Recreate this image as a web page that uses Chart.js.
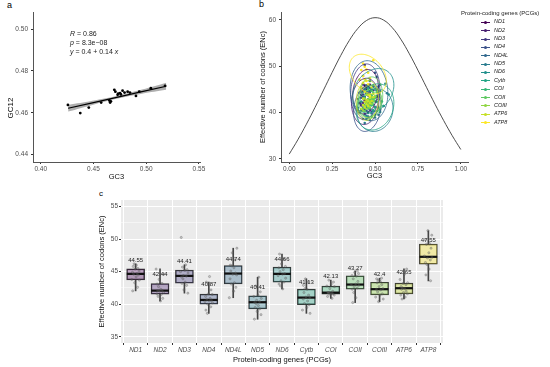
<!DOCTYPE html>
<html>
<head>
<meta charset="utf-8">
<title>GC12 vs GC3, ENc plot and ENc boxplots</title>
<script src="https://cdn.jsdelivr.net/npm/chart.js@4.4.1/dist/chart.umd.min.js"></script>
<style>
  body { margin: 0; width: 550px; height: 367px; position: relative; overflow: hidden; background: #fff;
         font-family: 'Liberation Sans', Arial, sans-serif; color: #000; }
  canvas { position: absolute; }
  .txt { position: absolute; white-space: nowrap; line-height: 1; }
  .panel { font-size: 9px; }
  .ytitle { font-size: 8px; transform: translate(-50%, -50%) rotate(-90deg); }
  .stat { font-size: 7px; color: #222; }
  .sw { position: absolute; left: 481px; width: 9px; height: 1px; }
  .dot { position: absolute; left: 484px; width: 3px; height: 3px; border-radius: 50%; }
  .item { left: 494px; font-style: italic; font-size: 5.5px; color: #222; }
</style>
</head>
<body>
<div class="txt panel" style="left:7px;top:1px">a</div>
<div class="txt panel" style="left:259px;top:0px">b</div>
<div class="txt panel" style="left:99px;top:190px;font-size:8px">c</div>

<canvas id="chartA" width="215" height="185" style="left:0;top:0"></canvas>
<canvas id="chartB" width="223" height="185" style="left:255px;top:0"></canvas>
<canvas id="chartC" width="355" height="179" style="left:93px;top:188px"></canvas>

<div class="txt ytitle" style="left:10.5px;top:108px">GC12</div>
<div class="txt stat" style="left:70px;top:30px"><i>R</i> = 0.86</div>
<div class="txt stat" style="left:70px;top:39px"><i>p</i> = 8.3e&minus;08</div>
<div class="txt stat" style="left:70px;top:48px"><i>y</i> = 0.4 + 0.14 <i>x</i></div>

<div class="txt" style="left:461px;top:9.5px;font-size:6px;color:#222">Protein-coding genes (PCGs)</div>
<div id="legend"></div>

<script>
// ---- panel a: GC12 against GC3 ----
const gc3A  = [0.4258, 0.4375, 0.4456, 0.4573, 0.4651, 0.4658, 0.4665, 0.4698, 0.4708, 0.4729, 0.4735,
               0.4752, 0.4760, 0.4776, 0.4795, 0.4824, 0.4846, 0.4903, 0.4934, 0.5044, 0.5179];
const gc12A = [0.4638, 0.4599, 0.4625, 0.4649, 0.4659, 0.4649, 0.4655, 0.4710, 0.4701, 0.4686, 0.4692,
               0.4694, 0.4688, 0.4706, 0.4697, 0.4701, 0.4697, 0.4681, 0.4701, 0.4718, 0.4729];
const fitX    = [0.426, 0.449, 0.472, 0.496, 0.519];
const fitY    = [0.4622, 0.4648, 0.4674, 0.4701, 0.4727];
const fitLow  = [0.4606, 0.4638, 0.4667, 0.4691, 0.4710];
const fitHigh = [0.4638, 0.4658, 0.4681, 0.4711, 0.4744];
const ticksAx = [0.40, 0.45, 0.50, 0.55];
const ticksAy = [0.44, 0.46, 0.48, 0.50];

// ---- genes, shared by panels b and c ----
const genes = ['ND1', 'ND2', 'ND3', 'ND4', 'ND4L', 'ND5', 'ND6', 'Cytb', 'COI', 'COII', 'COIII', 'ATP6', 'ATP8'];

// ENc of each gene (one value per species)
const encByGene = [
  [42.05, 42.6, 43.3, 43.7, 43.8, 44.2, 44.5, 44.6, 44.7, 44.9, 45.1, 45.4, 45.5, 45.8, 46.0, 46.2],   // ND1
  [40.5, 40.9, 41.2, 41.5, 41.6, 41.8, 42.0, 42.1, 42.1, 42.3, 42.7, 43.1, 43.2, 43.8, 44.6, 45.4],    // ND2
  [41.7, 42.2, 42.9, 43.2, 43.4, 43.9, 44.2, 44.3, 44.4, 44.8, 45.0, 45.2, 45.3, 45.7, 46.05, 50.25],  // ND3
  [38.6, 39.1, 39.6, 40.0, 40.2, 40.4, 40.5, 40.6, 40.7, 40.9, 41.2, 41.5, 41.6, 42.2, 43.4, 44.25],   // ND4
  [41.0, 42.0, 42.6, 43.1, 43.3, 43.9, 44.5, 44.6, 44.8, 45.1, 45.6, 45.9, 46.0, 46.8, 47.9, 48.6],    // ND4L
  [37.7, 38.4, 38.9, 39.3, 39.5, 39.8, 40.1, 40.3, 40.4, 40.6, 40.9, 41.2, 41.4, 41.9, 42.8, 44.15],   // ND5
  [42.35, 42.8, 43.1, 43.4, 43.6, 44.0, 44.4, 44.6, 44.7, 45.0, 45.3, 45.6, 45.8, 46.2, 46.9, 47.7],   // ND6
  [38.6, 39.1, 39.5, 39.9, 40.1, 40.5, 40.8, 41.0, 41.1, 41.4, 41.8, 42.3, 42.4, 42.9, 43.4, 43.9],    // Cytb
  [40.9, 41.2, 41.4, 41.5, 41.6, 41.7, 41.7, 41.8, 41.8, 42.0, 42.4, 42.7, 42.8, 43.1, 43.4, 43.7],    // COI
  [40.25, 41.0, 41.8, 42.3, 42.5, 42.7, 42.9, 43.0, 43.1, 43.5, 43.9, 44.3, 44.4, 44.7, 44.9, 45.1],   // COII
  [40.4, 40.8, 41.1, 41.4, 41.6, 41.9, 42.2, 42.3, 42.4, 42.7, 43.0, 43.3, 43.5, 43.7, 43.9, 44.0],    // COIII
  [40.8, 41.1, 41.4, 41.6, 41.8, 42.0, 42.3, 42.4, 42.5, 42.7, 43.0, 43.2, 43.3, 43.8, 44.6, 45.4],    // ATP6
  [43.6, 44.5, 45.4, 46.1, 46.4, 46.8, 47.1, 47.2, 47.4, 47.9, 48.6, 49.2, 49.3, 49.9, 50.6, 51.3]     // ATP8
];

// GC3 of each gene, same species order as above
const gc3ByGene = [
  [0.41, 0.44, 0.43, 0.46, 0.42, 0.45, 0.47, 0.43, 0.44, 0.48, 0.45, 0.42, 0.46, 0.44, 0.47, 0.43],
  [0.40, 0.43, 0.45, 0.42, 0.44, 0.47, 0.41, 0.46, 0.43, 0.45, 0.48, 0.44, 0.42, 0.46, 0.43, 0.45],
  [0.42, 0.45, 0.40, 0.44, 0.47, 0.43, 0.46, 0.41, 0.45, 0.49, 0.44, 0.42, 0.47, 0.45, 0.43, 0.44],
  [0.43, 0.46, 0.44, 0.41, 0.48, 0.45, 0.42, 0.47, 0.44, 0.46, 0.50, 0.43, 0.45, 0.48, 0.44, 0.47],
  [0.40, 0.45, 0.48, 0.43, 0.50, 0.46, 0.42, 0.47, 0.51, 0.44, 0.49, 0.45, 0.53, 0.47, 0.43, 0.50],
  [0.44, 0.47, 0.50, 0.45, 0.52, 0.48, 0.46, 0.51, 0.49, 0.53, 0.47, 0.50, 0.55, 0.48, 0.52, 0.57],
  [0.42, 0.46, 0.49, 0.44, 0.51, 0.47, 0.45, 0.53, 0.48, 0.50, 0.46, 0.52, 0.49, 0.56, 0.47, 0.51],
  [0.45, 0.48, 0.50, 0.46, 0.53, 0.49, 0.47, 0.52, 0.50, 0.55, 0.48, 0.51, 0.54, 0.49, 0.52, 0.58],
  [0.43, 0.46, 0.45, 0.48, 0.44, 0.47, 0.49, 0.46, 0.45, 0.48, 0.50, 0.47, 0.46, 0.49, 0.51, 0.48],
  [0.44, 0.46, 0.48, 0.45, 0.47, 0.49, 0.46, 0.48, 0.50, 0.47, 0.45, 0.49, 0.51, 0.48, 0.46, 0.50],
  [0.43, 0.45, 0.47, 0.44, 0.46, 0.48, 0.45, 0.47, 0.49, 0.46, 0.44, 0.48, 0.50, 0.47, 0.45, 0.49],
  [0.42, 0.44, 0.46, 0.43, 0.45, 0.47, 0.44, 0.46, 0.48, 0.45, 0.43, 0.47, 0.49, 0.46, 0.44, 0.48],
  [0.47, 0.44, 0.42, 0.46, 0.43, 0.45, 0.41, 0.44, 0.47, 0.43, 0.46, 0.42, 0.45, 0.44, 0.43, 0.49]
];

// ---- panel b: expected ENc curve and 95% ellipses ----
const curveGC3 = [0, 0.05, 0.1, 0.15, 0.2, 0.25, 0.3, 0.35, 0.4, 0.45, 0.5, 0.55, 0.6, 0.65, 0.7, 0.75, 0.8, 0.85, 0.9, 0.95, 1];
const curveENC = [31.0, 34.09, 37.47, 41.08, 44.85, 48.65, 52.3, 55.56, 58.17, 59.88, 60.5, 59.98, 58.37, 55.86, 52.7, 49.15, 45.45, 41.78, 38.27, 34.99, 32.0];
// ellipse per gene: centre GC3, centre ENc, half extent GC3, half extent ENc, phase (deg)
const ellCx  = [0.445, 0.443, 0.443, 0.455, 0.465, 0.50, 0.49, 0.50, 0.47, 0.475, 0.465, 0.455, 0.458];
const ellCy  = [44.5, 42.4, 44.5, 40.9, 44.7, 40.5, 44.7, 41.2, 42.1, 43.2, 42.4, 42.6, 48.3];
const ellAx  = [0.075, 0.08, 0.085, 0.08, 0.11, 0.105, 0.12, 0.11, 0.07, 0.07, 0.07, 0.065, 0.108];
const ellAy  = [4.8, 5.0, 6.0, 5.0, 6.5, 4.6, 4.8, 5.0, 3.0, 4.5, 3.5, 4.3, 4.3];
const ellPh  = [80, 85, 85, 80, 95, 85, 75, 80, 80, 85, 80, 85, 110];
const ticksBx = [0, 0.25, 0.5, 0.75, 1];
const ticksBy = [30, 40, 50, 60];

// ---- panel c: boxplot statistics ----
const whiskerLow  = [42.05, 40.5, 41.7, 38.6, 41.0, 37.7, 42.35, 38.6, 40.9, 40.25, 40.4, 40.8, 43.58];
const boxQ1       = [43.74, 41.54, 43.23, 40.0, 43.12, 39.28, 43.38, 39.94, 41.54, 42.31, 41.43, 41.58, 46.15];
const boxMedian   = [44.66, 42.09, 44.35, 40.66, 44.71, 40.31, 44.66, 41.02, 41.78, 43.02, 42.31, 42.46, 47.28];
const boxQ3       = [45.43, 43.17, 45.23, 41.54, 45.94, 41.28, 45.69, 42.31, 42.77, 44.35, 43.38, 43.23, 49.23];
const whiskerHigh = [46.2, 45.43, 46.05, 43.4, 48.6, 44.15, 47.7, 43.9, 43.7, 45.12, 44.0, 45.43, 51.28];
const meanLabels  = ['44.55', '42.44', '44.41', '40.87', '44.74', '40.41', '44.66', '41.13', '42.13', '43.27', '42.4', '42.65', '47.55'];
const ticksCy = [35, 37.5, 40, 42.5, 45, 47.5, 50, 52.5, 55];

// styles
const geneColors = ['#440154', '#471F70', '#433A81', '#3B528A', '#31688D', '#297C8E', '#21908C',
                    '#22A485', '#38B777', '#5EC861', '#90D643', '#C6E027', '#FDE725'];
const jitter = [-0.12, 0.08, -0.04, 0.15, -0.16, 0.02, 0.11, -0.08, 0.05, -0.13, 0.14, -0.02, 0.09, -0.1, 0.03, -0.06];

Chart.defaults.font.family = "'Liberation Sans', Arial, sans-serif";
Chart.defaults.font.size = 6.5;
Chart.defaults.color = '#4D4D4D';
Chart.defaults.animation = false;
Chart.defaults.plugins.legend.display = false;
Chart.defaults.plugins.tooltip.enabled = false;

function hexAlpha(hex, a) {
    const n = parseInt(hex.slice(1), 16);
    return `rgba(${n >> 16}, ${(n >> 8) & 255}, ${n & 255}, ${a})`;
}

// classic axis (ggplot theme_classic look)
function classicAxis(min, max, ticks, fixed, isX, title, titlePad) {
    return {
        type: 'linear', min, max, offset: false,
        afterBuildTicks: s => { s.ticks = ticks.map(v => ({ value: v })); },
        afterFit: s => { if (isX) s.height = fixed; else s.width = fixed; },
        ticks: { callback: v => isX && max < 2 ? v.toFixed(2) : (max < 2 ? v.toFixed(2) : v), padding: isX ? 1 : 3, color: '#4D4D4D' },
        grid: { display: true, drawOnChartArea: false, drawTicks: true, tickLength: 2, tickColor: '#333' },
        border: { display: true, color: '#555', width: 1 },
        title: title ? { display: true, text: title, color: '#111', font: { size: 7.5 }, padding: { top: 0, bottom: titlePad } } : { display: false }
    };
}

// ---------- chart a ----------
new Chart(document.getElementById('chartA'), {
    type: 'scatter',
    data: {
        datasets: [
            { data: gc3A.map((x, i) => ({ x, y: gc12A[i] })), pointRadius: 1.4, backgroundColor: '#000', borderWidth: 0 },
            { type: 'line', data: fitX.map((x, i) => ({ x, y: fitY[i] })), borderColor: '#000', borderWidth: 1.2, pointRadius: 0 },
            { type: 'line', data: fitX.map((x, i) => ({ x, y: fitHigh[i] })), borderWidth: 0, pointRadius: 0,
              tension: 0.4, fill: '+1', backgroundColor: 'rgba(110,110,110,0.55)' },
            { type: 'line', data: fitX.map((x, i) => ({ x, y: fitLow[i] })), borderWidth: 0, pointRadius: 0, tension: 0.4 }
        ]
    },
    options: {
        responsive: false,
        layout: { padding: { left: 0, top: 12, right: 15, bottom: 0 } },
        scales: {
            x: classicAxis(0.3927, 0.551, ticksAx, 23, true, 'GC3', 4),
            y: classicAxis(0.4365, 0.5082, ticksAy, 33, false, null, 0)
        }
    }
});

// ---------- chart b ----------
const ellipsePlugin = {
    id: 'ellipses',
    afterDatasetsDraw(chart) {
        const { ctx, scales: { x, y } } = chart;
        ctx.save();
        ctx.lineWidth = 0.8;
        genes.forEach((g, i) => {
            ctx.strokeStyle = geneColors[i];
            ctx.beginPath();
            for (let t = 0; t <= 360; t += 4) {
                const a = t * Math.PI / 180, ph = ellPh[i] * Math.PI / 180;
                const px = x.getPixelForValue(ellCx[i] + ellAx[i] * Math.cos(a));
                const py = y.getPixelForValue(ellCy[i] + ellAy[i] * Math.cos(a - ph));
                if (t === 0) ctx.moveTo(px, py); else ctx.lineTo(px, py);
            }
            ctx.stroke();
        });
        ctx.restore();
    }
};

const datasetsB = genes.map((g, i) => ({
    label: g,
    data: gc3ByGene[i].map((x, k) => ({ x, y: encByGene[i][k] })),
    pointRadius: 1.3, borderWidth: 0, backgroundColor: geneColors[i], order: 13 - i
}));
datasetsB.push({
    type: 'line', data: curveGC3.map((x, i) => ({ x, y: curveENC[i] })),
    borderColor: '#3a3a3a', borderWidth: 0.9, pointRadius: 0, tension: 0.4, order: 20
});

new Chart(document.getElementById('chartB'), {
    type: 'scatter',
    data: { datasets: datasetsB },
    options: {
        responsive: false,
        layout: { padding: { left: 0, top: 12, right: 10, bottom: 0 } },
        scales: {
            x: classicAxis(-0.048, 1.042, ticksBx, 23, true, 'GC3', 5),
            y: Object.assign(classicAxis(29.29, 61.73, ticksBy, 26, false, 'Effective number of codons (ENc)', 0),
                             { title: { display: true, text: 'Effective number of codons (ENc)', color: '#111', font: { size: 7.5 }, padding: { top: 3, bottom: 0 } } })
        }
    },
    plugins: [ellipsePlugin]
});

// ---------- chart c ----------
const panelBg = {
    id: 'panelBg',
    beforeDraw(chart) {
        const { ctx, chartArea: a } = chart;
        ctx.save();
        ctx.fillStyle = '#EBEBEB';
        ctx.fillRect(a.left, a.top, a.right - a.left, a.bottom - a.top);
        ctx.restore();
    }
};
const meanText = {
    id: 'meanText',
    afterDatasetsDraw(chart) {
        const { ctx, scales: { x, y } } = chart;
        ctx.save();
        ctx.font = "6px 'Liberation Sans', Arial, sans-serif";
        ctx.fillStyle = '#222';
        ctx.textAlign = 'center';
        ctx.textBaseline = 'middle';
        meanLabels.forEach((m, i) => {
            ctx.fillText(m, x.getPixelForValue(i), y.getPixelForValue(parseFloat(m) + 2.2));
        });
        ctx.restore();
    }
};

const barBase = { type: 'bar', grouped: false, borderSkipped: false };
new Chart(document.getElementById('chartC'), {
    type: 'bar',
    data: {
        datasets: [
            Object.assign({}, barBase, { data: genes.map((g, i) => ({ x: i, y: [whiskerLow[i], boxQ1[i]] })),
                barThickness: 1, backgroundColor: '#444', order: 5 }),
            Object.assign({}, barBase, { data: genes.map((g, i) => ({ x: i, y: [boxQ3[i], whiskerHigh[i]] })),
                barThickness: 1, backgroundColor: '#444', order: 5 }),
            Object.assign({}, barBase, { data: genes.map((g, i) => ({ x: i, y: [boxQ1[i], boxQ3[i]] })),
                barThickness: 18, backgroundColor: geneColors.map(c => hexAlpha(c, 0.35)),
                borderColor: '#333', borderWidth: 0.8, order: 4 }),
            Object.assign({}, barBase, { data: genes.map((g, i) => ({ x: i, y: [boxMedian[i] - 0.12, boxMedian[i] + 0.12] })),
                barThickness: 17, backgroundColor: '#111', order: 3 }),
            { type: 'scatter', order: 1,
              data: genes.flatMap((g, i) => encByGene[i].map((v, k) => ({ x: i + jitter[(k + i * 5) % jitter.length], y: v }))),
              pointRadius: 1.1, backgroundColor: 'rgba(120,120,120,0.35)', borderColor: 'rgba(70,70,70,0.55)', borderWidth: 0.5 }
        ]
    },
    options: {
        responsive: false,
        layout: { padding: { left: 0, top: 12, right: 5, bottom: 0 } },
        scales: {
            x: {
                type: 'linear', min: -0.6, max: 12.6, offset: false,
                afterBuildTicks: s => { s.ticks = genes.map((g, i) => ({ value: i })); },
                afterFit: s => { s.height = 24; },
                ticks: { callback: v => genes[v], font: { style: 'italic', size: 6.5 }, color: '#4D4D4D', padding: 1, maxRotation: 0, autoSkip: false },
                grid: { color: '#FFFFFF', lineWidth: 1, tickColor: '#333', tickLength: 2 },
                border: { display: false },
                title: { display: true, text: 'Protein-coding genes (PCGs)', color: '#111', font: { size: 7.5 }, padding: { top: 0, bottom: 2.5 } }
            },
            y: {
                type: 'linear', min: 34.05, max: 56.0,
                afterBuildTicks: s => { s.ticks = ticksCy.map(v => ({ value: v })); },
                afterFit: s => { s.width = 28; },
                ticks: { callback: v => (v % 5 === 0 ? v : ''), color: '#4D4D4D', padding: 1 },
                grid: {
                    color: '#FFFFFF',
                    lineWidth: c => (c.tick && c.tick.value % 5 === 0 ? 1 : 0.5),
                    tickColor: c => (c.tick && c.tick.value % 5 === 0 ? '#333' : 'rgba(0,0,0,0)'),
                    tickLength: 2
                },
                border: { display: false },
                title: { display: true, text: 'Effective number of codons (ENc)', color: '#111', font: { size: 7.5 }, padding: { top: 4, bottom: 0 } }
            }
        }
    },
    plugins: [panelBg, meanText]
});

// legend of panel b
const legend = document.getElementById('legend');
genes.forEach((g, i) => {
    const y = 22.3 + i * 8.36;
    legend.insertAdjacentHTML('beforeend',
        `<div class="sw" style="top:${y - 0.5}px;background:${geneColors[i]}"></div>` +
        `<div class="dot" style="top:${y - 1.5}px;background:${geneColors[i]}"></div>` +
        `<div class="txt item" style="top:${y - 3}px">${g}</div>`);
});
</script>
</body>
</html>
